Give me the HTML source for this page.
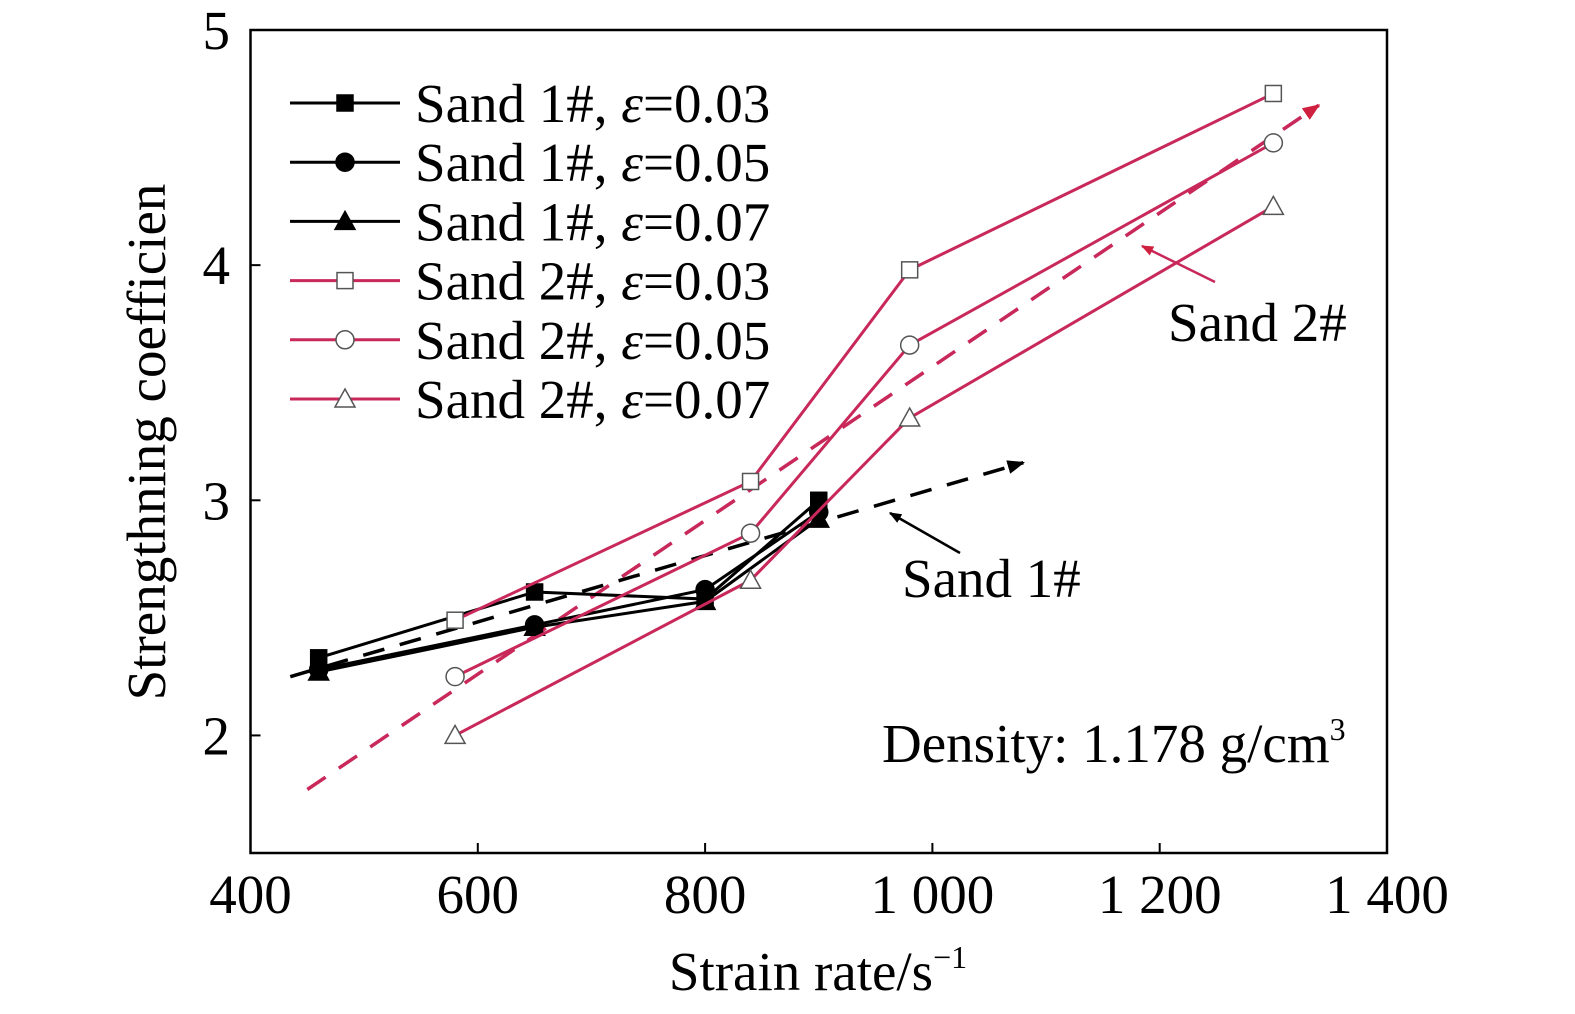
<!DOCTYPE html>
<html><head><meta charset="utf-8"><style>
body{margin:0;background:#fff}
svg{display:block;font-family:"Liberation Serif",serif}
</style></head><body>
<svg id="c" width="1575" height="1014" viewBox="0 0 1575 1014">
<defs>
<marker id="ab" viewBox="0 0 10 10" refX="9" refY="5" markerWidth="5" markerHeight="5" orient="auto"><path d="M0,1 L10,5 L0,9 z" fill="#000"/></marker>
<marker id="ar" viewBox="0 0 10 10" refX="9" refY="5" markerWidth="5" markerHeight="5" orient="auto"><path d="M0,1 L10,5 L0,9 z" fill="#d02040"/></marker>
</defs>
<g id="plot"></g>
</svg>
<script>
const xTicks=[400,600,800,1000,1200,1400];
const xTickLabels=["400","600","800","1 000","1 200","1 400"];
const yTicks=[2,3,4,5];
const seriesNames=["Sand 1#, ε=0.03","Sand 1#, ε=0.05","Sand 1#, ε=0.07","Sand 2#, ε=0.03","Sand 2#, ε=0.05","Sand 2#, ε=0.07"];
const sand1X=[460,650,800,900];
const sand1e03=[2.33,2.61,2.58,3.0];
const sand1e05=[2.28,2.47,2.62,2.95];
const sand1e07=[2.27,2.46,2.57,2.92];
const sand2X=[580,840,980,1300];
const sand2e03=[2.49,3.08,3.98,4.73];
const sand2e05=[2.25,2.86,3.66,4.52];
const sand2e07=[2.0,2.66,3.35,4.25];
const trend1X=[435,1080];
const trend1Y=[2.25,3.16];
const trend2X=[450,1340];
const trend2Y=[1.77,4.68];

const NS="http://www.w3.org/2000/svg";
const X0=250.5,X1=1387,Y0=853,Y1=30,xmin=400,xmax=1400,ymin=1.5,ymax=5;
const sx=v=>X0+(v-xmin)/(xmax-xmin)*(X1-X0);
const sy=v=>Y0-(v-ymin)/(ymax-ymin)*(Y0-Y1);
const g=document.getElementById('plot');
function el(t,a,p){const e=document.createElementNS(NS,t);for(const k in a)e.setAttribute(k,a[k]);(p||g).appendChild(e);return e;}
const RED="#c8285a";
const FS=55;
const fr=el('rect',{x:X0,y:Y1,width:X1-X0,height:Y0-Y1,fill:'none',stroke:'#000','stroke-width':2.5});


xTicks.forEach((t,i)=>{
 const l=el('line',{x1:sx(t),x2:sx(t),y1:Y0,y2:Y0-10,stroke:'#000','stroke-width':2});
 
 
 const tx=el('text',{x:sx(t),y:913,'font-size':FS,'text-anchor':'middle'});
 tx.textContent=xTickLabels[i];
 
 
});
yTicks.forEach(t=>{
 const l=el('line',{x1:X0,x2:X0+10,y1:sy(t),y2:sy(t),stroke:'#000','stroke-width':2});
 
 
 const tx=el('text',{x:230,y:sy(t)+19,'font-size':FS,'text-anchor':'end'});
 tx.textContent=String(t);
 
 
});
let t=el('text',{x:818,y:990,'font-size':FS,'text-anchor':'middle'});
t.innerHTML='Strain rate/s<tspan font-size="32" dy="-22">−1</tspan>';


t=el('text',{x:0,y:0,'font-size':FS,'text-anchor':'middle',transform:'translate(165,442) rotate(-90)'});
t.textContent='Strengthning coefficien';


let d=el('line',{x1:sx(trend1X[0]),y1:sy(trend1Y[0]),x2:sx(trend1X[1]),y2:sy(trend1Y[1]),stroke:'#000','stroke-width':3.5,'stroke-dasharray':'22 16','marker-end':'url(#ab)'});


d=el('line',{x1:sx(trend2X[0]),y1:sy(trend2Y[0]),x2:sx(trend2X[1]),y2:sy(trend2Y[1]),stroke:RED,'stroke-width':3.5,'stroke-dasharray':'22 16','marker-end':'url(#ar)'});


function marker(type,x,y,color,filled,par){
 const f=filled?color:'#fff',s=filled?'#000':'#555';
 let m;
 if(type==='sq')m=el('rect',{x:x-8,y:y-8,width:16,height:16,fill:f,stroke:s,'stroke-width':1.5},par);
 else if(type==='ci')m=el('circle',{cx:x,cy:y,r:9,fill:f,stroke:s,'stroke-width':1.5},par);
 else m=el('path',{d:`M${x},${y-10} L${x+10},${y+8} L${x-10},${y+8} Z`,fill:f,stroke:s,'stroke-width':1.5},par);
 return m;
}
const series=[[sand1X,sand1e03,'#000','sq',true],[sand1X,sand1e05,'#000','ci',true],[sand1X,sand1e07,'#000','tr',true],
 [sand2X,sand2e03,RED,'sq',false],[sand2X,sand2e05,RED,'ci',false],[sand2X,sand2e07,RED,'tr',false]];
series.forEach((s,i)=>{
 const grp=el('g',{});
 
 
 const pl=el('polyline',{points:s[0].map((x,j)=>sx(x)+','+sy(s[1][j])).join(' '),fill:'none',stroke:s[2],'stroke-width':3},grp);
 
 
 s[0].forEach((x,j)=>{
  const m=marker(s[3],sx(x),sy(s[1][j]),s[2],s[4],grp);
  
  
 });
 const ly=103+i*59.2;
 const lg=el('g',{});
 
 
 el('line',{x1:290,x2:400,y1:ly,y2:ly,stroke:s[2],'stroke-width':3},lg);
 marker(s[3],345,ly,s[2],s[4],lg);
 const lt=el('text',{x:415,y:ly+19,'font-size':FS},lg);
 lt.innerHTML=seriesNames[i].replace('ε','<tspan font-style="italic">ε</tspan>');
});
let a=el('line',{x1:960,y1:553,x2:890,y2:513,stroke:'#000','stroke-width':2.5,'marker-end':'url(#ab)'});


a=el('line',{x1:1215,y1:282,x2:1142,y2:246,stroke:RED,'stroke-width':2.5,'marker-end':'url(#ar)'});


t=el('text',{x:902,y:597,'font-size':FS});t.textContent='Sand 1#';


t=el('text',{x:1168,y:341,'font-size':FS});t.textContent='Sand 2#';


t=el('text',{x:882,y:762,'font-size':FS});
t.innerHTML='Density: 1.178 g/cm<tspan font-size="32" dy="-22">3</tspan>';


</script>
</body></html>
